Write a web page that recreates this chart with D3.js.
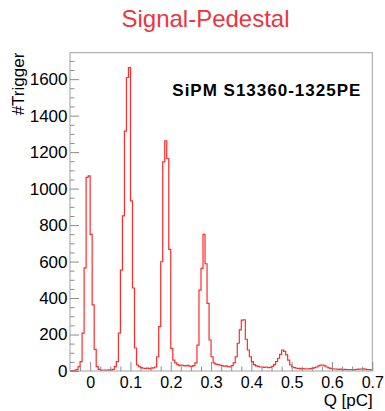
<!DOCTYPE html>
<html>
<head>
<meta charset="utf-8">
<script src="https://cdn.jsdelivr.net/npm/d3@7"></script>
<style>
  html, body { margin: 0; padding: 0; background: #fff; }
  svg { display: block; }
  text { font-family: "Liberation Sans", Arial, Helvetica, sans-serif; }
</style>
</head>
<body>
<svg id="chart" width="385" height="411"></svg>
<script>
// Charge spectrum: pedestal-subtracted signal, 150 bins of 0.005 pC from -0.05 pC
const binLow = -0.05;
const binWidth = 0.005;
const counts = [
  2, 2, 3, 7, 24, 51, 208, 565, 1062, 1070,
  749, 362, 119, 24, 9, 5, 4, 5, 4, 6,
  5, 9, 24, 51, 208, 553, 850, 1315, 1609, 1664,
  933, 455, 126, 33, 24, 18, 15, 14, 16, 13,
  15, 17, 22, 78, 243, 599, 1147, 1262, 1165, 667,
  124, 60, 44, 35, 30, 33, 30, 28, 31, 27,
  25, 30, 45, 142, 443, 563, 749, 588, 371, 170,
  78, 44, 38, 35, 33, 30, 26, 28, 24, 22,
  30, 45, 78, 152, 225, 279, 281, 174, 115, 78,
  51, 35, 28, 25, 22, 22, 20, 22, 18, 20,
  25, 35, 51, 70, 91, 115, 108, 88, 60, 33,
  22, 18, 15, 14, 12, 13, 12, 11, 12, 13,
  14, 18, 22, 28, 32, 33, 28, 22, 17, 14,
  12, 11, 10, 9, 10, 8, 9, 8, 8, 7,
  8, 7, 9, 10, 11, 12, 10, 8, 7, 6
];

// Axis ranges and tick values
const xRange = [-0.05, 0.7];
const yRange = [0, 1745];
const xMajorTicks = [0, 0.1, 0.2, 0.3, 0.4, 0.5, 0.6, 0.7];
const xMinorTicks = d3.range(-0.025, 0.7001, 0.025).filter(v => Math.abs(Math.round(v * 10) - v * 10) > 1e-6);
const yMajorTicks = [0, 200, 400, 600, 800, 1000, 1200, 1400, 1600];
const yMinorTicks = d3.range(50, 1745, 50).filter(v => v % 200 !== 0);

const titleText = "Signal-Pedestal";
const labelText = "SiPM S13360-1325PE";
const xTitle = "Q [pC]";
const yTitle = "#Trigger";

const frame = { left: 70, right: 372.3, top: 52.7, bottom: 371 };
const axisColor = "#8c8c8c";

const svg = d3.select("#chart");

const x = d3.scaleLinear().domain(xRange).range([frame.left, frame.right]);
const y = d3.scaleLinear().domain(yRange).range([frame.bottom, frame.top]);

// Histogram outline as a step line through bin edges
const points = counts.map((c, i) => [binLow + i * binWidth, c]);
points.push([binLow + counts.length * binWidth, counts[counts.length - 1]]);

const clip = svg.append("clipPath").attr("id", "plot-clip")
  .append("rect")
  .attr("x", frame.left).attr("y", frame.top)
  .attr("width", frame.right - frame.left).attr("height", frame.bottom - frame.top);

svg.append("path")
  .datum(points)
  .attr("clip-path", "url(#plot-clip)")
  .attr("fill", "none")
  .attr("stroke", "#ff2a2a")
  .attr("stroke-width", 1.2)
  .attr("d", d3.line().x(d => x(d[0])).y(d => y(d[1])).curve(d3.curveStepAfter));

// Frame
svg.append("rect")
  .attr("x", frame.left).attr("y", frame.top)
  .attr("width", frame.right - frame.left).attr("height", frame.bottom - frame.top)
  .attr("fill", "none")
  .attr("stroke", "#a0a0a0")
  .attr("stroke-width", 1);

function styleAxis(g) {
  g.select(".domain").remove();
  g.selectAll(".tick line").attr("stroke", axisColor);
  g.selectAll(".tick text").attr("fill", "#000");
}

// Y axis: ticks pointing into the frame
svg.append("g")
  .attr("transform", `translate(${frame.left},0)`)
  .call(d3.axisLeft(y).tickValues(yMinorTicks).tickSize(-4.5).tickFormat(""))
  .call(styleAxis);

svg.append("g")
  .attr("transform", `translate(${frame.left},0)`)
  .call(d3.axisLeft(y).tickValues(yMajorTicks).tickSize(-9).tickPadding(2.5).tickFormat(d3.format("d")))
  .call(styleAxis)
  .call(g => g.selectAll(".tick text").attr("font-size", 17));

// X axis
svg.append("g")
  .attr("transform", `translate(0,${frame.bottom})`)
  .call(d3.axisBottom(x).tickValues(xMinorTicks).tickSize(-4.5).tickFormat(""))
  .call(styleAxis);

svg.append("g")
  .attr("transform", `translate(0,${frame.bottom})`)
  .call(d3.axisBottom(x).tickValues(xMajorTicks).tickSize(-9).tickPadding(6)
    .tickFormat(d => d === 0 ? "0" : d3.format(".1f")(d)))
  .call(styleAxis)
  .call(g => g.selectAll(".tick text").attr("font-size", 16));

// Titles and labels
svg.append("text")
  .attr("x", 205.5).attr("y", 26.5)
  .attr("text-anchor", "middle")
  .attr("font-size", 24)
  .attr("fill", "#ec343e")
  .text(titleText);

svg.append("text")
  .attr("x", 172.3).attr("y", 95.7)
  .attr("font-size", 17)
  .attr("font-weight", "bold")
  .attr("fill", "#000")
  .attr("textLength", 188)
  .attr("lengthAdjust", "spacing")
  .text(labelText);

svg.append("text")
  .attr("x", frame.right + 0.5).attr("y", 406)
  .attr("text-anchor", "end")
  .attr("font-size", 17)
  .attr("fill", "#000")
  .text(xTitle);

svg.append("text")
  .attr("transform", `translate(23.5,${frame.top}) rotate(-90)`)
  .attr("text-anchor", "end")
  .attr("font-size", 17)
  .attr("fill", "#000")
  .text(yTitle);
</script>
</body>
</html>
